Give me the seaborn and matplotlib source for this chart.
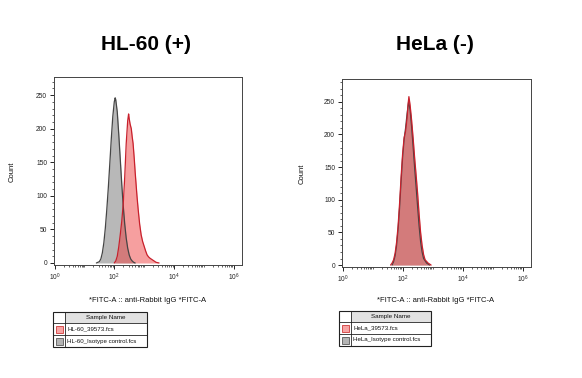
import numpy as np
import matplotlib
matplotlib.use("Agg")
import matplotlib.pyplot as plt
from matplotlib.patches import Rectangle
from matplotlib.ticker import MultipleLocator, LogLocator, NullFormatter
import seaborn as sns

# log10(FITC-A) positions and event counts
hl60_iso_log = [1.40, 1.50, 1.55, 1.60, 1.65, 1.70, 1.75, 1.80, 1.85, 1.90, 1.95, 2.00, 2.03,
                2.05, 2.10, 2.15, 2.20, 2.25, 2.30, 2.35, 2.40, 2.45, 2.50, 2.55, 2.60, 2.65, 2.70]
hl60_iso_count = [0, 2, 6, 15, 30, 52, 80, 112, 148, 185, 218, 240, 246,
                  243, 225, 192, 155, 118, 85, 58, 37, 22, 12, 6, 3, 1, 0]

hl60_pos_log = [2.00, 2.05, 2.10, 2.15, 2.20, 2.25, 2.30, 2.35, 2.40, 2.45, 2.48, 2.50, 2.53, 2.57,
                2.60, 2.63, 2.67, 2.70, 2.76, 2.80, 2.85, 2.90, 2.95, 3.00, 3.05, 3.10, 3.15, 3.20,
                3.30, 3.40, 3.50]
hl60_pos_count = [0, 3, 10, 24, 42, 62, 88, 128, 178, 212, 222, 215, 207, 200,
                  188, 178, 155, 135, 100, 80, 58, 42, 32, 25, 18, 12, 9, 7,
                  4, 1, 0]

hela_iso_log = [1.65, 1.70, 1.75, 1.80, 1.85, 1.90, 1.95, 2.00, 2.05, 2.10, 2.15, 2.20, 2.25,
                2.30, 2.35, 2.40, 2.45, 2.50, 2.55, 2.60, 2.65, 2.70, 2.80, 2.90]
hela_iso_count = [0, 5, 14, 30, 55, 88, 128, 165, 192, 210, 232, 250, 238,
                  212, 182, 150, 120, 90, 60, 36, 20, 10, 3, 0]

hela_pos_log = [1.60, 1.65, 1.70, 1.75, 1.80, 1.85, 1.90, 1.95, 2.00, 2.05, 2.10, 2.15, 2.18,
                2.21, 2.25, 2.30, 2.35, 2.40, 2.45, 2.50, 2.55, 2.60, 2.65, 2.70, 2.75, 2.85, 2.95]
hela_pos_count = [0, 3, 8, 18, 35, 60, 95, 135, 170, 195, 205, 225, 245,
                  258, 245, 222, 195, 165, 138, 110, 78, 50, 30, 16, 8, 3, 0]

titles = ["HL-60 (+)", "HeLa (-)"]
legend_names = [["HL-60_39573.fcs", "HL-60_Isotype control.fcs"],
                ["HeLa_39573.fcs", "HeLa_Isotype control.fcs"]]
x_label = "*FITC-A :: anti-Rabbit IgG *FITC-A"

sns.set_style("ticks")
plt.rcParams["font.family"] = ["Liberation Sans", "DejaVu Sans"]
plt.rcParams["mathtext.default"] = "regular"
plt.rcParams["text.color"] = "#111111"

W, H = 582, 378
fig = plt.figure(figsize=(W / 100, H / 100), dpi=100)


def px_rect(x0, y0, x1, y1):
    return [x0 / W, 1 - y1 / H, (x1 - x0) / W, (y1 - y0) / H]


red_fill, red_edge = "#ee4040", "#c8202c"
gray_fill, gray_edge = "#8a8a8a", "#454545"


def draw_hist(ax, iso_log, iso_cnt, pos_log, pos_cnt, ytop):
    iso_x = 10 ** np.array(iso_log)
    pos_x = 10 ** np.array(pos_log)
    ax.fill_between(iso_x, iso_cnt, color=gray_fill, alpha=0.6, lw=0)
    sns.lineplot(x=iso_x, y=iso_cnt, ax=ax, color=gray_edge, lw=0.9, sort=False, estimator=None)
    ax.fill_between(pos_x, pos_cnt, color=red_fill, alpha=0.5, lw=0)
    sns.lineplot(x=pos_x, y=pos_cnt, ax=ax, color=red_edge, lw=0.9, sort=False, estimator=None)
    ax.set_xscale("log")
    ax.set_xlim(10 ** -0.02, 10 ** 6.28)
    ax.set_ylim(-3, ytop)
    ax.set_xticks([1, 1e2, 1e4, 1e6])
    ax.set_xticklabels(["$10^{0}$", "$10^{2}$", "$10^{4}$", "$10^{6}$"])
    ax.xaxis.set_minor_locator(LogLocator(base=10, subs=np.arange(1, 10) * 1.0, numticks=30))
    ax.xaxis.set_minor_formatter(NullFormatter())
    ax.set_yticks([0, 50, 100, 150, 200, 250])
    ax.yaxis.set_minor_locator(MultipleLocator(10))
    ax.tick_params(which="major", labelsize=4.8, length=3, width=0.7, pad=2,
                   colors="#222222", labelcolor="#222222")
    ax.tick_params(which="minor", length=1.6, width=0.5, colors="#222222")
    for s in ax.spines.values():
        s.set_linewidth(0.7)
        s.set_color("#444444")
    ax.set_xlabel("")
    ax.set_ylabel("")


def draw_table(x0, y0, x1, y1, names):
    w = x1 - x0
    tax = fig.add_axes(px_rect(x0, y0, x1, y1))
    tax.set_xlim(0, w)
    tax.set_ylim(y1 - y0, 0)
    tax.axis("off")
    tax.add_patch(Rectangle((12, 0), w - 12, 11, facecolor="#e2e2e2", edgecolor="none"))
    tax.add_patch(Rectangle((0, 0), w, y1 - y0, facecolor="none", edgecolor="#222222",
                            lw=0.8, clip_on=False))
    for yy in (11, 23):
        tax.plot([0, w], [yy, yy], color="#222222", lw=0.6, clip_on=False)
    tax.plot([12, 12], [0, y1 - y0], color="#222222", lw=0.6, clip_on=False)
    tax.text((12 + w) / 2, 5.8, "Sample Name", ha="center", va="center", fontsize=4.5)
    sw = [("#f7a4a4", "#d03a3a"), ("#b4b4b4", "#5a5a5a")]
    for i, (name, (fc, ec)) in enumerate(zip(names, sw)):
        yc = 17 + 12 * i
        tax.add_patch(Rectangle((2.5, yc - 3.5), 7, 7, facecolor=fc, edgecolor=ec, lw=0.6))
        tax.text(14, yc, name, ha="left", va="center", fontsize=4.4, clip_on=True)


ax1 = fig.add_axes(px_rect(54, 77, 242, 265))
draw_hist(ax1, hl60_iso_log, hl60_iso_count, hl60_pos_log, hl60_pos_count, 277)
ax2 = fig.add_axes(px_rect(342, 79, 531, 267))
draw_hist(ax2, hela_iso_log, hela_iso_count, hela_pos_log, hela_pos_count, 285)

for cx, cy, t in [(146, 45, titles[0]), (435, 45, titles[1])]:
    fig.text(cx / W, 1 - cy / H, t, ha="center", va="center", fontsize=15,
             fontweight="bold", color="black")
for cx, cy in [(12, 172), (302, 174)]:
    fig.text(cx / W, 1 - cy / H, "Count", ha="center", va="center", rotation=90, fontsize=5.5)
for cx, cy in [(148, 300), (436, 300)]:
    fig.text(cx / W, 1 - cy / H, x_label, ha="center", va="center", fontsize=5.5)

draw_table(53, 312, 147, 347, legend_names[0])
draw_table(339, 311, 431, 346, legend_names[1])

fig.savefig("out.png", dpi=100)
